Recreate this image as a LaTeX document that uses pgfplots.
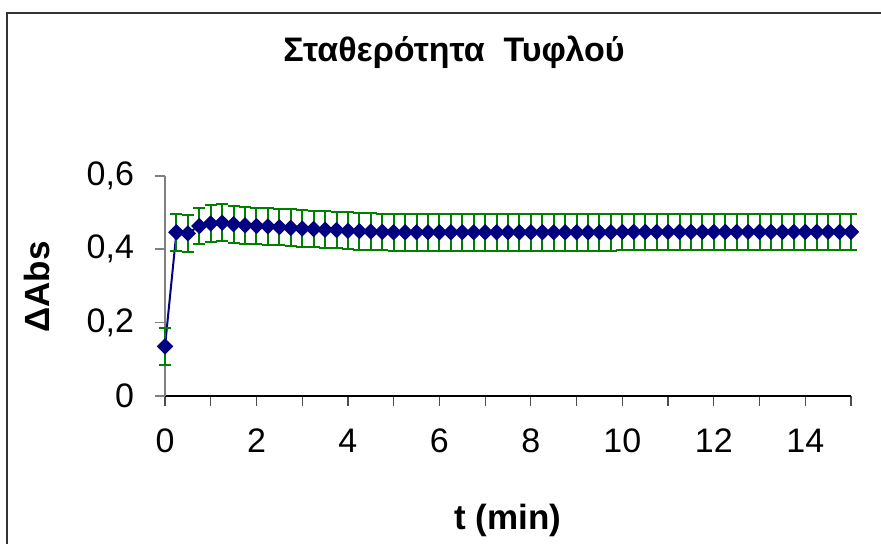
\documentclass[border=0pt]{standalone}
\usepackage{pgfplots}
\pgfplotsset{compat=1.18}
\usepackage{pgfplotstable}
\usepackage{fontspec}
\setmainfont{Liberation Sans}
\definecolor{navyblue}{HTML}{000080}
\definecolor{errgreen}{HTML}{008000}
\pgfplotstableread{
t y err
0 0.135 0.05
0.25 0.446 0.05
0.5 0.443 0.05
0.75 0.463 0.05
1.0 0.470 0.05
1.25 0.472 0.05
1.5 0.468 0.05
1.75 0.465 0.05
2.0 0.463 0.05
2.25 0.462 0.05
2.5 0.460 0.05
2.75 0.458 0.05
3.0 0.456 0.05
3.25 0.455 0.05
3.5 0.453 0.05
3.75 0.452 0.05
4.0 0.450 0.05
4.25 0.449 0.05
4.5 0.448 0.05
4.75 0.447 0.05
5.0 0.446 0.05
5.25 0.446 0.05
5.5 0.446 0.05
5.75 0.446 0.05
6.0 0.446 0.05
6.25 0.446 0.05
6.5 0.446 0.05
6.75 0.446 0.05
7.0 0.446 0.05
7.25 0.446 0.05
7.5 0.446 0.05
7.75 0.446 0.05
8.0 0.446 0.05
8.25 0.446 0.05
8.5 0.446 0.05
8.75 0.446 0.05
9.0 0.446 0.05
9.25 0.446 0.05
9.5 0.446 0.05
9.75 0.446 0.05
10.0 0.447 0.05
10.25 0.447 0.05
10.5 0.447 0.05
10.75 0.447 0.05
11.0 0.447 0.05
11.25 0.447 0.05
11.5 0.447 0.05
11.75 0.447 0.05
12.0 0.447 0.05
12.25 0.447 0.05
12.5 0.447 0.05
12.75 0.447 0.05
13.0 0.447 0.05
13.25 0.447 0.05
13.5 0.447 0.05
13.75 0.447 0.05
14.0 0.447 0.05
14.25 0.447 0.05
14.5 0.447 0.05
14.75 0.447 0.05
15.0 0.447 0.05
}\datatable
\begin{document}
\begin{tikzpicture}
\path[use as bounding box] (0,0) rectangle (440.5pt,271.5pt);
\draw[line width=1pt, black!80] (3.5pt,-10pt) -- (3.5pt,265pt) -- (460pt,265pt);
\begin{axis}[
  at={(82.5pt,73.5pt)}, anchor=south west,
  scale only axis, width=343pt, height=110.15pt,
  xmin=0, xmax=15, ymin=0, ymax=0.6,
  axis x line*=bottom, axis y line*=left,
  x axis line style={black, line width=0.6pt, -},
  y axis line style={gray, line width=0.8pt, -},
  xtick={0,2,...,14}, minor xtick={1,3,...,15},
  ytick={0,0.2,0.4,0.6}, yticklabels={0,{0,2},{0,4},{0,6}},
  tick align=outside,
  major tick length=5pt, minor tick length=5pt,
  x tick style={black!70, line width=0.6pt},
  y tick style={gray, line width=0.8pt},
  tick label style={font=\fontsize{17}{19}\selectfont},
  /pgf/number format/assume math mode=true,
  xticklabel style={yshift=-8pt},
  yticklabel style={xshift=-7pt},
  clip=false,
]
\addplot[navyblue, line width=1pt, mark=square*, mark size=2.4pt,
  mark options={rotate=45, fill=navyblue, draw=navyblue},
  error bars/.cd, y dir=both, y explicit,
  error bar style={errgreen, line width=1pt},
  error mark options={rotate=90, mark size=3pt, errgreen, line width=1pt}]
  table[x=t, y=y, y error=err] {\datatable};
\end{axis}
\node[font=\fontsize{17}{19}\selectfont\bfseries] at (227pt,245.6pt) {Σταθερότητα\ \ Τυφλού};
\node[font=\fontsize{17.5}{19}\selectfont\bfseries, rotate=90] at (18.3pt,128pt) {ΔAbs};
\node[font=\fontsize{17.5}{19}\selectfont\bfseries] at (254pt,11.5pt) {t (min)};
\end{tikzpicture}
\end{document}
